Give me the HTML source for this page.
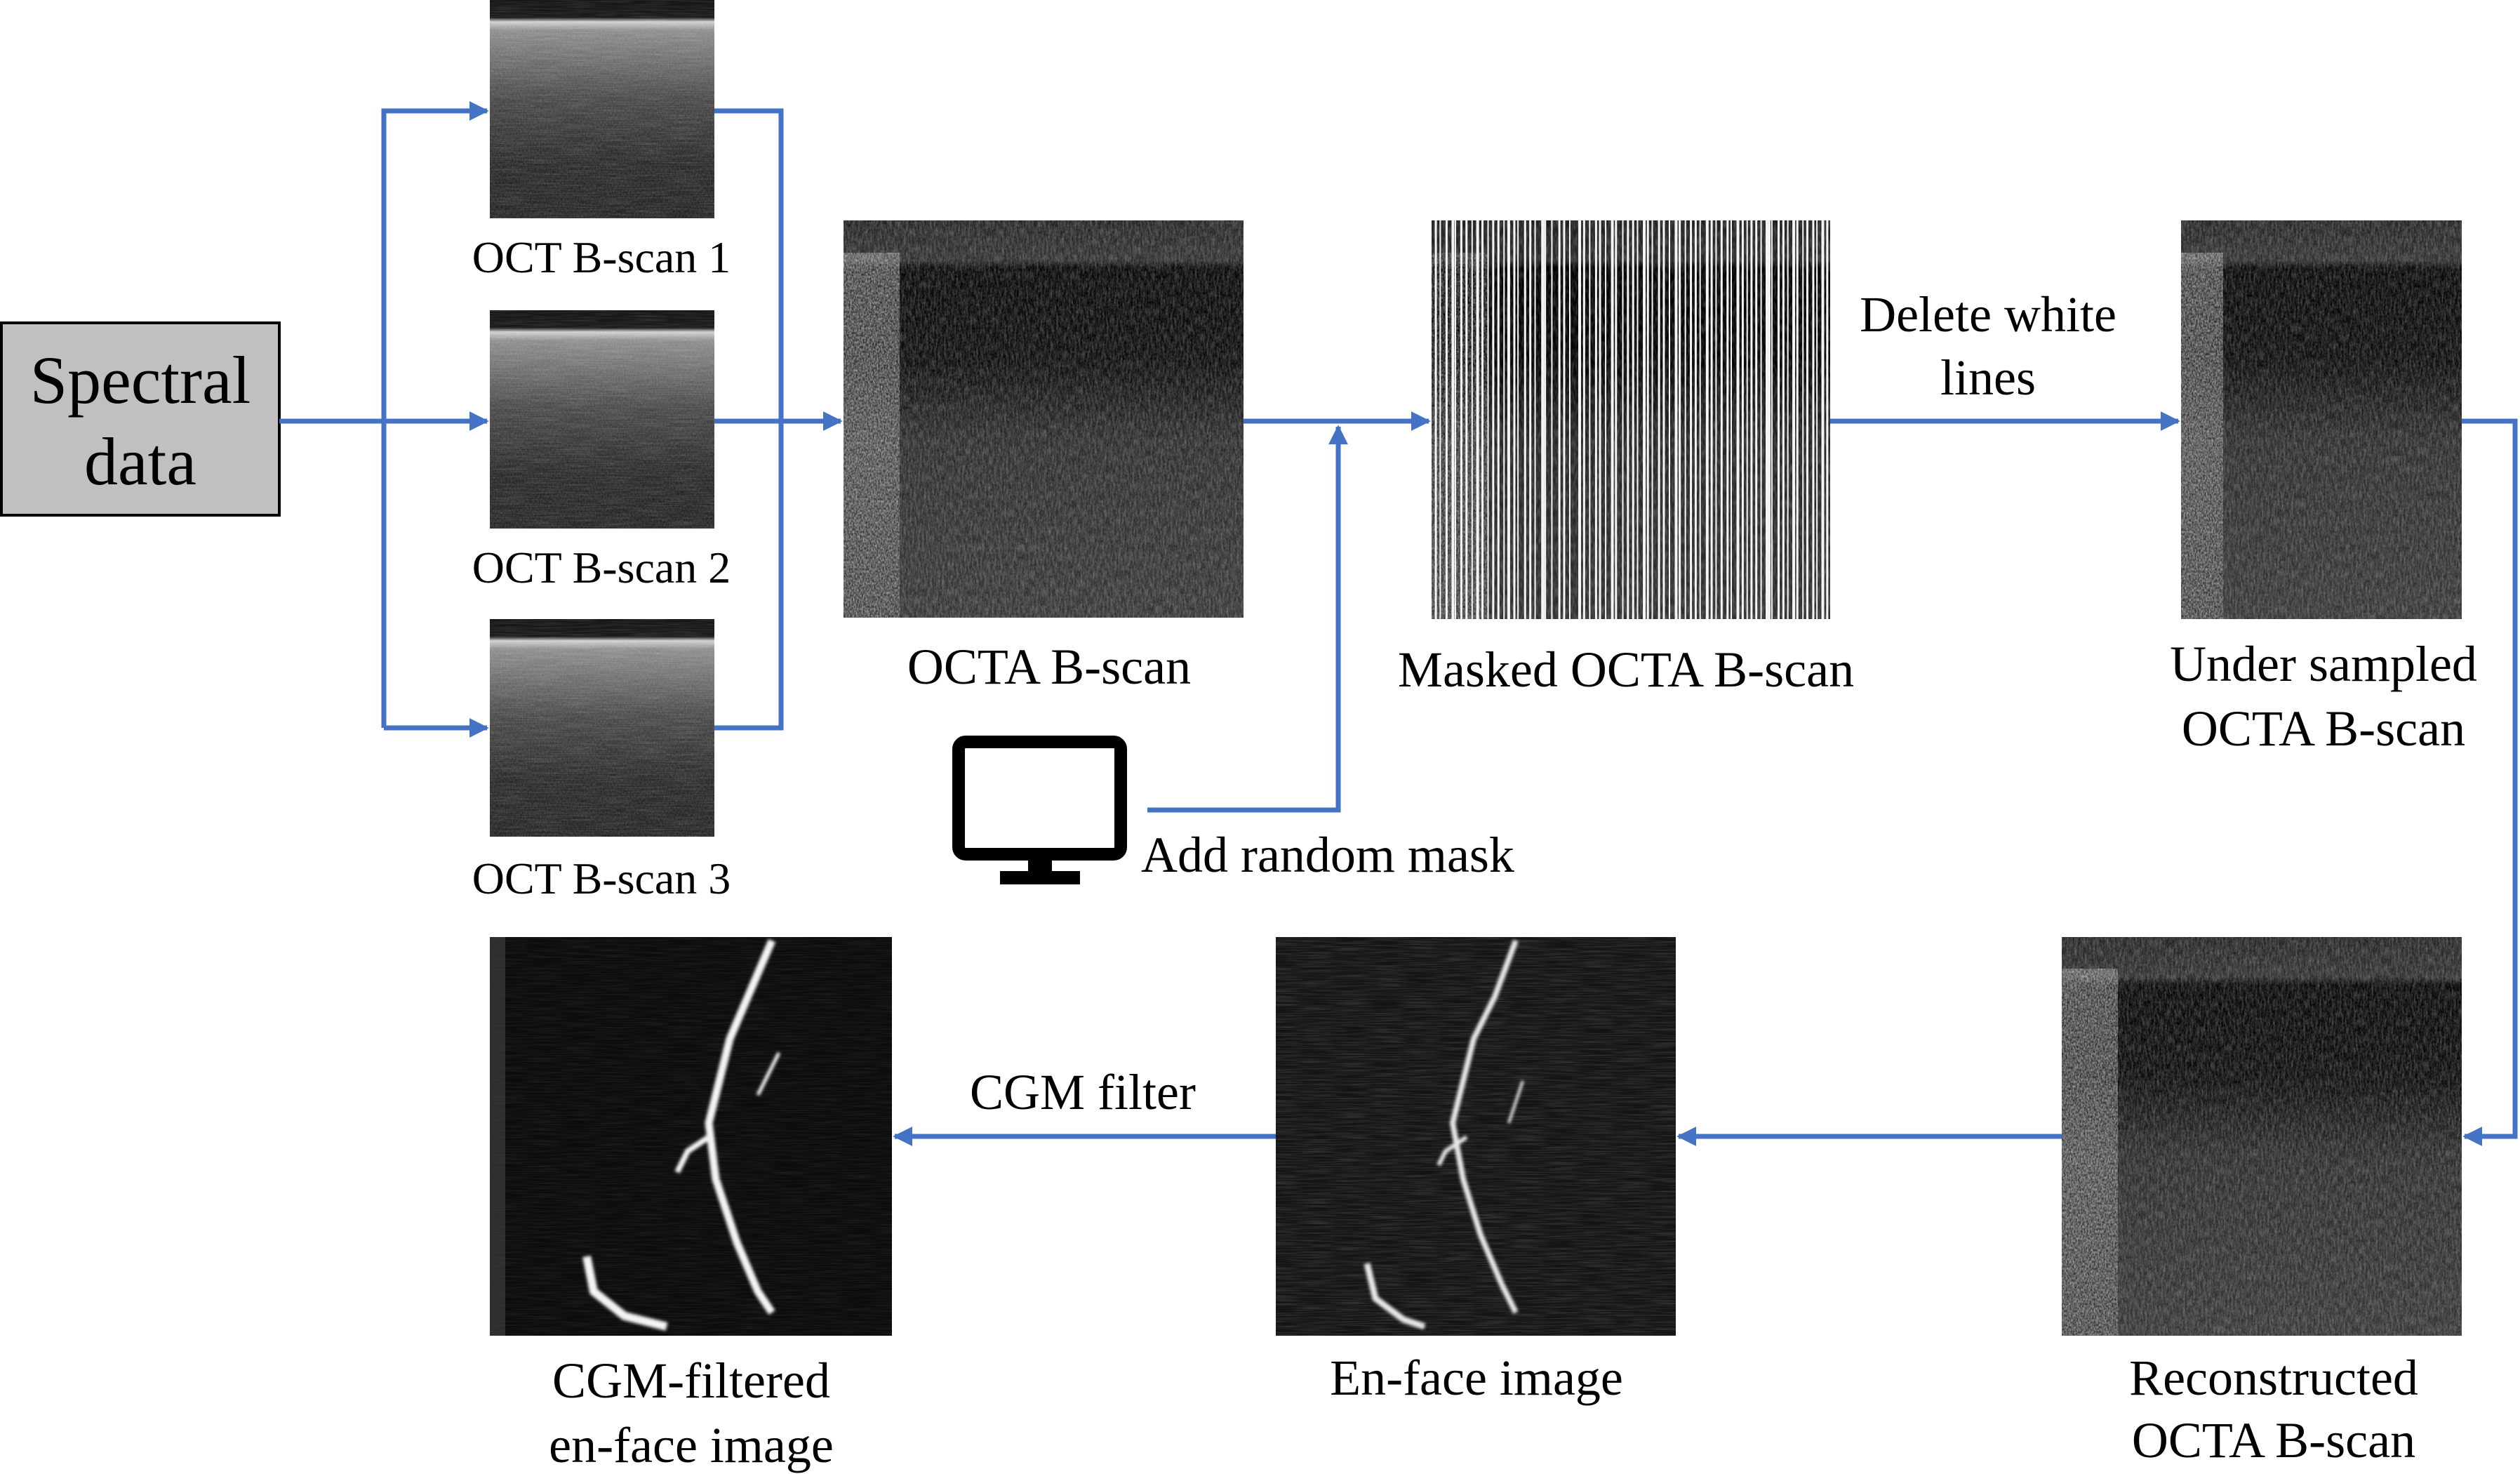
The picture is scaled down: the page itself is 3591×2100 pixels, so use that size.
<!DOCTYPE html>
<html><head><meta charset="utf-8"><style>
html,body{margin:0;padding:0;background:#fff;}
svg{display:block;}
text{font-family:"Liberation Serif","Times New Roman",serif;fill:#000;}
</style></head><body>
<svg width="3591" height="2100" viewBox="0 0 3591 2100" xmlns="http://www.w3.org/2000/svg">
<defs>
  <filter id="noise" x="0" y="0" width="100%" height="100%">
    <feTurbulence type="fractalNoise" baseFrequency="0.35 0.08" numOctaves="2" seed="3" result="t"/>
    <feColorMatrix in="t" type="matrix" values="0 0 0 0 1  0 0 0 0 1  0 0 0 0 1  0 0 0 0.9 -0.3"/>
  </filter>
  <filter id="speck" x="0" y="0" width="100%" height="100%">
    <feTurbulence type="fractalNoise" baseFrequency="0.5 0.3" numOctaves="2" seed="11" result="t"/>
    <feColorMatrix in="t" type="matrix" values="0 0 0 0 1  0 0 0 0 1  0 0 0 0 1  0 0 0 1.6 -0.45"/>
  </filter>
  <filter id="noise2" x="0" y="0" width="100%" height="100%">
    <feTurbulence type="fractalNoise" baseFrequency="0.02 0.6" numOctaves="2" seed="7" result="t"/>
    <feColorMatrix in="t" type="matrix" values="0 0 0 0 1  0 0 0 0 1  0 0 0 0 1  0 0 0 0.7 -0.25"/>
  </filter>
  <filter id="glow"><feGaussianBlur stdDeviation="2"/></filter>
  <linearGradient id="octg" x1="0" y1="0" x2="0" y2="1">
    <stop offset="0" stop-color="#151515"/>
    <stop offset="0.08" stop-color="#1a1a1a"/>
    <stop offset="0.1" stop-color="#cfcfcf"/>
    <stop offset="0.14" stop-color="#8a8a8a"/>
    <stop offset="0.45" stop-color="#454545"/>
    <stop offset="0.75" stop-color="#262626"/>
    <stop offset="1" stop-color="#222"/>
  </linearGradient>
  <linearGradient id="octag" x1="0" y1="0" x2="0" y2="1">
    <stop offset="0" stop-color="#1e1e1e"/>
    <stop offset="0.1" stop-color="#2a2a2a"/>
    <stop offset="0.12" stop-color="#000"/>
    <stop offset="0.35" stop-color="#050505"/>
    <stop offset="0.55" stop-color="#262626"/>
    <stop offset="1" stop-color="#303030"/>
  </linearGradient>
  <linearGradient id="leftcol" x1="0" y1="0" x2="0" y2="1">
    <stop offset="0" stop-color="#888"/>
    <stop offset="0.6" stop-color="#555"/>
    <stop offset="1" stop-color="#333"/>
  </linearGradient>
  <marker id="ah" viewBox="0 0 10 10" refX="9" refY="5" markerWidth="4" markerHeight="4" orient="auto" markerUnits="strokeWidth">
    <path d="M0,0 L10,5 L0,10 Z" fill="#4472c4"/>
  </marker>
</defs>

<g>
  <rect x="2" y="460" width="396" height="274" fill="#c0c0c0" stroke="#000" stroke-width="4"/>
  <text x="200" y="574" font-size="96" text-anchor="middle">Spectral</text>
  <text x="200" y="690" font-size="96" text-anchor="middle">data</text>
</g>

<g>
  <rect x="698" y="0" width="320" height="311" fill="url(#octg)"/>
  <rect x="698" y="0" width="320" height="311" filter="url(#noise2)" opacity="0.35"/>
  <rect x="698" y="30" width="320" height="281" filter="url(#speck)" opacity="0.15"/>
  <text x="857" y="388" font-size="64" text-anchor="middle">OCT B-scan 1</text>
</g>
<g>
  <rect x="698" y="442" width="320" height="311" fill="url(#octg)"/>
  <rect x="698" y="442" width="320" height="311" filter="url(#noise2)" opacity="0.35"/>
  <rect x="698" y="472" width="320" height="281" filter="url(#speck)" opacity="0.15"/>
  <text x="857" y="830" font-size="64" text-anchor="middle">OCT B-scan 2</text>
</g>
<g>
  <rect x="698" y="882" width="320" height="310" fill="url(#octg)"/>
  <rect x="698" y="882" width="320" height="310" filter="url(#noise2)" opacity="0.35"/>
  <rect x="698" y="912" width="320" height="280" filter="url(#speck)" opacity="0.15"/>
  <text x="857" y="1273" font-size="64" text-anchor="middle">OCT B-scan 3</text>
</g>

<g>
  <rect x="1202" y="314" width="570" height="566" fill="url(#octag)"/>
  <rect x="1202" y="314" width="570" height="566" filter="url(#noise)" opacity="0.45"/>
  <rect x="1202" y="360" width="80" height="520" fill="url(#leftcol)" opacity="0.35"/>
  <rect x="1202" y="360" width="80" height="520" filter="url(#speck)" opacity="0.45"/>
  <rect x="1202" y="314" width="570" height="566" filter="url(#speck)" opacity="0.18"/>
  <text x="1495" y="974" font-size="72" text-anchor="middle">OCTA B-scan</text>
</g>

<g>
  <rect x="2040" y="314" width="568" height="568" fill="url(#octag)"/>
  <rect x="2040" y="314" width="568" height="568" filter="url(#noise)" opacity="0.45"/>
  <rect x="2040" y="360" width="80" height="522" filter="url(#speck)" opacity="0.45"/>
  <g id="stripes"></g>
  <text x="2317" y="978" font-size="72" text-anchor="middle">Masked OCTA B-scan</text>
</g>

<g>
  <rect x="3108" y="314" width="400" height="568" fill="url(#octag)"/>
  <rect x="3108" y="314" width="400" height="568" filter="url(#noise)" opacity="0.45"/>
  <rect x="3108" y="360" width="60" height="522" fill="url(#leftcol)" opacity="0.35"/>
  <rect x="3108" y="360" width="60" height="522" filter="url(#speck)" opacity="0.45"/>
  <rect x="3108" y="314" width="400" height="568" filter="url(#speck)" opacity="0.18"/>
  <text x="3311" y="970" font-size="72" text-anchor="middle">Under sampled</text>
  <text x="3311" y="1062" font-size="72" text-anchor="middle">OCTA B-scan</text>
</g>

<g>
  <rect x="2938" y="1335" width="570" height="568" fill="url(#octag)"/>
  <rect x="2938" y="1335" width="570" height="568" filter="url(#noise)" opacity="0.45"/>
  <rect x="2938" y="1380" width="80" height="523" fill="url(#leftcol)" opacity="0.35"/>
  <rect x="2938" y="1380" width="80" height="523" filter="url(#speck)" opacity="0.45"/>
  <rect x="2938" y="1335" width="570" height="568" filter="url(#speck)" opacity="0.18"/>
  <text x="3240" y="1987" font-size="72" text-anchor="middle">Reconstructed</text>
  <text x="3240" y="2076" font-size="72" text-anchor="middle">OCTA B-scan</text>
</g>

<g>
  <rect x="1818" y="1335" width="570" height="568" fill="#141414"/>
  <rect x="1818" y="1335" width="570" height="568" filter="url(#noise2)" opacity="0.4"/>
  <g fill="none" stroke="#e8e8e8" filter="url(#glow)">
    <polyline points="2160,1340 2130,1420 2100,1480 2085,1540 2070,1600 2085,1680 2110,1760 2140,1830 2160,1870" stroke-width="8"/>
    <polyline points="2090,1620 2060,1640 2050,1660" stroke-width="6"/>
    <polyline points="2150,1600 2160,1570 2170,1540" stroke-width="4"/>
    <polyline points="1948,1800 1960,1850 2000,1880 2030,1890" stroke-width="9"/>
  </g>
  <text x="2104" y="1987" font-size="72" text-anchor="middle">En-face image</text>
</g>

<g>
  <rect x="698" y="1335" width="573" height="568" fill="#0c0c0c"/>
  <rect x="698" y="1335" width="573" height="568" filter="url(#noise2)" opacity="0.2"/>
  <rect x="698" y="1335" width="22" height="568" fill="#444" opacity="0.6"/>
  <g fill="none" stroke="#f4f4f4" filter="url(#glow)">
    <polyline points="1100,1340 1070,1410 1040,1480 1025,1540 1010,1600 1020,1680 1050,1770 1080,1840 1100,1870" stroke-width="11"/>
    <polyline points="1010,1620 980,1640 965,1670" stroke-width="8"/>
    <polyline points="1080,1560 1095,1530 1110,1500" stroke-width="5"/>
    <polyline points="836,1790 846,1840 890,1875 950,1890" stroke-width="12"/>
  </g>
  <text x="985" y="1991" font-size="72" text-anchor="middle">CGM-filtered</text>
  <text x="985" y="2083" font-size="72" text-anchor="middle">en-face image</text>
</g>

<g>
  <rect x="1366" y="1057" width="231" height="160" rx="10" fill="none" stroke="#000" stroke-width="18"/>
  <rect x="1465" y="1217" width="34" height="24" fill="#000"/>
  <rect x="1425" y="1241" width="114" height="19" fill="#000"/>
</g>
<text x="1626" y="1242" font-size="72">Add random mask</text>
<text x="2833" y="472" font-size="72" text-anchor="middle">Delete white</text>
<text x="2833" y="562" font-size="72" text-anchor="middle">lines</text>
<text x="1543" y="1580" font-size="72" text-anchor="middle">CGM filter</text>

<g fill="none" stroke="#4472c4" stroke-width="7">
  <path d="M398,600 H694" marker-end="url(#ah)"/>
  <path d="M547,1037 V158 H694" marker-end="url(#ah)"/>
  <path d="M547,1037 H694" marker-end="url(#ah)"/>
  <path d="M1018,158 H1113 V1037 H1018"/>
  <path d="M1018,600 H1198" marker-end="url(#ah)"/>
  <path d="M1772,600 H2036" marker-end="url(#ah)"/>
  <path d="M1635,1154 H1907 V608" marker-end="url(#ah)"/>
  <path d="M2608,600 H3104" marker-end="url(#ah)"/>
  <path d="M3508,600 H3584 V1619 H3512" marker-end="url(#ah)"/>
  <path d="M2938,1619 H2392" marker-end="url(#ah)"/>
  <path d="M1818,1619 H1275" marker-end="url(#ah)"/>
</g>
</svg>
<script>
// mask column positions (fraction of width) and widths
const maskCols = [0.008,0.02,0.035,0.05,0.058,0.072,0.085,0.1,0.112,0.125,0.14,0.152,0.165,0.18,0.19,0.205,0.215,0.232,0.245,0.258,0.275,0.282,0.3,0.318,0.33,0.345,0.368,0.38,0.395,0.41,0.42,0.435,0.45,0.46,0.478,0.49,0.503,0.515,0.53,0.54,0.552,0.568,0.58,0.595,0.61,0.62,0.635,0.648,0.66,0.672,0.688,0.7,0.712,0.725,0.74,0.75,0.765,0.778,0.79,0.8,0.812,0.825,0.838,0.845,0.852,0.868,0.88,0.892,0.905,0.915,0.93,0.94,0.955,0.965,0.978,0.99];
const maskW = [3,2,3,4,2,3,3,2,4,3,2,3,3,2,4,3,2,3,3,2,4,3,2,3,3,2,4,3,2,3,3,2,4,3,2,3,3,2,4,3,2,3,3,2,4,3,2,3,3,2,4,3,2,3,3,2,4,3,2,3,3,2,4,3,2,3,3,2,4,3,2,3,3,2,4,3];
const g = document.getElementById('stripes');
const x0 = 2040, w = 568, y0 = 314, h = 568;
maskCols.forEach((c, i) => {
  const r = document.createElementNS('http://www.w3.org/2000/svg', 'rect');
  r.setAttribute('x', x0 + c * w);
  r.setAttribute('y', y0);
  r.setAttribute('width', maskW[i]);
  r.setAttribute('height', h);
  r.setAttribute('fill', '#f4f4f4');
  
  
  g.appendChild(r);
});
</script>
</body></html>
